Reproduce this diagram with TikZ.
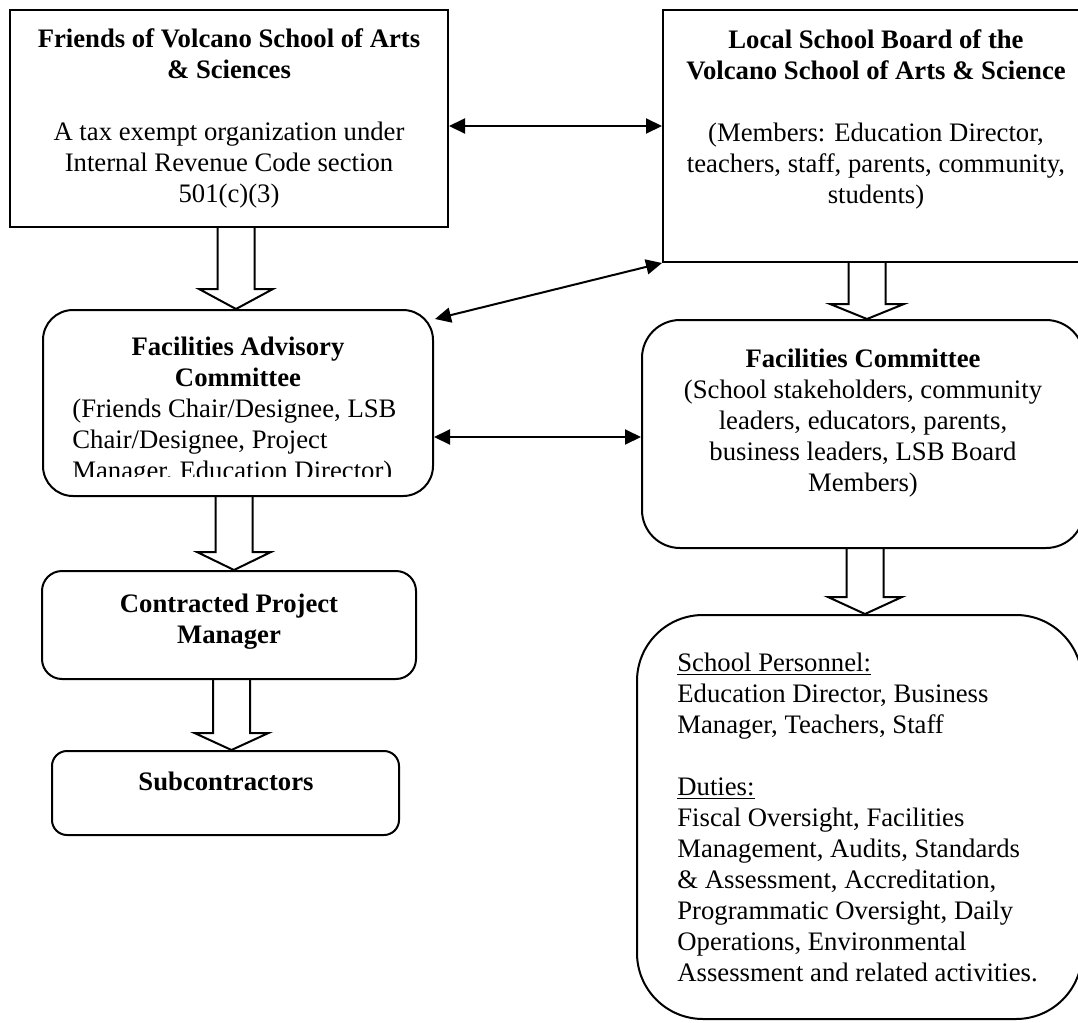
\documentclass[tikz,border=0pt]{standalone}
\usepackage{fontspec}
\setmainfont{Liberation Serif}
\usetikzlibrary{calc,arrows.meta}
\newcommand\tstrut{\rule{0pt}{11pt}}
\newcommand\blkarr[4]{%
  \draw[blk] ($(#3 |- #1.south)+(-18.5,0)$) -- ($(#3 |- #2.north)+(-18.5,-#4)$)
    -- ($(#3 |- #2.north)+(-37,-#4)$) -- (#3 |- #2.north)
    -- ($(#3 |- #2.north)+(37,-#4)$) -- ($(#3 |- #2.north)+(18.5,-#4)$)
    -- ($(#3 |- #1.south)+(18.5,0)$);}
\begin{document}
\begin{tikzpicture}[x=0.5pt,y=-0.5pt,
  box/.style={draw=black,line width=1pt,inner sep=0pt,fill=white},
  txt/.style={inner sep=0pt,font=\fontsize{13.35}{15.5}\selectfont},
  dbl/.style={line width=1pt,{Triangle[length=8pt,width=7.5pt]}-{Triangle[length=8pt,width=7.5pt]}},
  blk/.style={line width=1pt,line join=miter}]
\useasboundingbox (0,0) rectangle (1078,1023);
\clip (0,0) rectangle (1078,1023);
\fill[white] (0,0) rectangle (1078,1023);

% boxes
\node[box,minimum width=219pt,minimum height=108.5pt] (fr) at (229,118.5) {};
\node[box,minimum width=224.5pt,minimum height=126pt] (lsb) at (887.5,136) {};
\node[box,rounded corners=15pt,minimum width=195pt,minimum height=93pt] (fac) at (238,403) {};
\node[box,rounded corners=19pt,minimum width=221pt,minimum height=114pt] (fc) at (863,434) {};
\node[box,rounded corners=10pt,minimum width=187pt,minimum height=54pt] (cpm) at (229,625) {};
\node[box,rounded corners=7.5pt,minimum width=173.5pt,minimum height=42pt] (sub) at (225.5,793) {};
\node[box,rounded corners=33pt,minimum width=222.5pt,minimum height=202pt] (sp) at (859.5,817) {};

% helper coordinates
\coordinate (ytop) at (0,126);
\coordinate (ymid) at (0,437);
\coordinate (xa) at (236,0);
\coordinate (xb) at (867,0);
\coordinate (xc) at (234,0);
\coordinate (xd) at (231.5,0);
\coordinate (xe) at (865,0);

% double arrows
\draw[dbl] (fr.east |- ytop) -- (lsb.west |- ytop);
\draw[dbl] (lsb.south west) -- ($(fac.north east)+(1,10)$);
\draw[dbl] (fac.east |- ymid) -- (fc.west |- ymid);

% block arrows
\blkarr{fr}{fac}{xa}{20}
\blkarr{lsb}{fc}{xb}{15}
\blkarr{fac}{cpm}{xc}{18}
\blkarr{cpm}{sub}{xd}{17}
\blkarr{fc}{sp}{xe}{17}

% texts
\node[txt,align=center,anchor=north] (frt) at (229,25)
 {\tstrut\textbf{Friends of Volcano School of Arts}\\\textbf{\& Sciences}\\[15.5pt]A tax exempt organization under\\Internal Revenue Code section\\501(c)(3)};
\node[txt,align=center,anchor=north] (lsbt) at (876,26)
 {\tstrut\textbf{Local School Board of the}\\\textbf{Volcano School of Arts \& Science}\\[15.5pt](Members: Education Director,\\teachers, staff, parents, community,\\students)};
\node[txt,align=center,anchor=north] (fact) at (238,333)
 {\tstrut\textbf{Facilities Advisory}\\\textbf{Committee}};
\begin{scope}
\clip (0,0) rectangle (1078,476);
\node[txt,align=left,anchor=north west] (facb) at (72,395)
 {\tstrut(Friends Chair/Designee, LSB\\Chair/Designee, Project\\Manager, Education Director)};
\end{scope}
\node[txt,align=center,anchor=north] (fct) at (863,345)
 {\tstrut\textbf{Facilities Committee}\\(School stakeholders, community\\leaders, educators, parents,\\business leaders, LSB Board\\Members)};
\node[txt,align=center,anchor=north] (cpmt) at (229,590)
 {\tstrut\textbf{Contracted Project}\\\textbf{Manager}};
\node[txt,align=center,anchor=north] (subt) at (226,768)
 {\tstrut\textbf{Subcontractors}};
\node[txt,align=left,anchor=north west] (spt) at (677,649)
 {\tstrut\underline{School Personnel:}\\Education Director, Business\\Manager, Teachers, Staff\\[15.5pt]\underline{Duties:}\\Fiscal Oversight, Facilities\\Management, Audits, Standards\\\& Assessment, Accreditation,\\Programmatic Oversight, Daily\\Operations, Environmental\\Assessment and related activities.};
\end{tikzpicture}
\end{document}
